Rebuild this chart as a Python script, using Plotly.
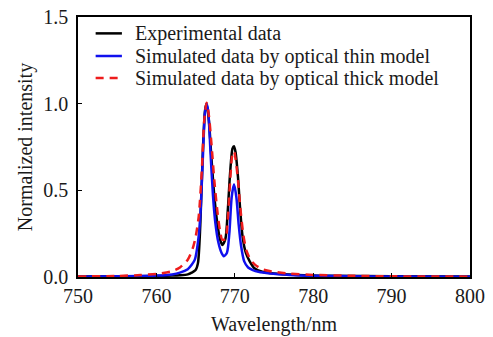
import plotly.graph_objects as go

# Experimental data (black)
exp_x = [750, 755, 760, 762, 763, 764, 764.5, 765.0, 765.3, 765.6, 765.9, 766.2, 766.4, 766.7, 767.0, 767.4, 767.8, 768.1, 768.4, 768.8, 769.1, 769.4, 769.7, 769.9, 770.1, 770.4, 770.7, 771.0, 771.4, 771.9, 772.5, 773.5, 775, 778, 782, 790, 800]
exp_y = [0.003, 0.004, 0.006, 0.008, 0.01, 0.015, 0.025, 0.04, 0.08, 0.3, 0.7, 0.96, 1.0, 0.9, 0.7, 0.46, 0.3, 0.22, 0.185, 0.22, 0.38, 0.6, 0.74, 0.755, 0.72, 0.58, 0.38, 0.23, 0.14, 0.09, 0.05, 0.03, 0.02, 0.012, 0.007, 0.004, 0.003]

# Simulated, optical thin model (blue)
thin_x = [750, 755, 760, 762, 763, 764, 764.5, 764.9, 765.3, 765.6, 765.9, 766.2, 766.4, 766.6, 766.9, 767.2, 767.5, 767.9, 768.3, 768.6, 769.0, 769.3, 769.6, 769.9, 770.2, 770.5, 770.8, 771.2, 771.7, 772.3, 773.0, 774.5, 777, 780, 785, 790, 800]
thin_y = [0.002, 0.004, 0.008, 0.015, 0.025, 0.045, 0.07, 0.1, 0.2, 0.35, 0.66, 0.95, 1.0, 0.96, 0.72, 0.48, 0.32, 0.2, 0.14, 0.12, 0.14, 0.25, 0.46, 0.535, 0.46, 0.3, 0.18, 0.09, 0.055, 0.04, 0.03, 0.02, 0.012, 0.007, 0.004, 0.003, 0.002]

# Simulated, optical thick model (red dashed)
thick_x = [750, 755, 758, 760, 762, 763, 764, 764.6, 765.0, 765.4, 765.8, 766.1, 766.4, 766.7, 767.0, 767.4, 767.8, 768.1, 768.4, 768.8, 769.1, 769.4, 769.7, 769.9, 770.1, 770.4, 770.7, 771.1, 771.5, 772.0, 772.6, 773.5, 775, 777, 780, 785, 790, 800]
thick_y = [0.003, 0.006, 0.011, 0.018, 0.033, 0.055, 0.1, 0.16, 0.23, 0.35, 0.62, 0.9, 1.005, 0.93, 0.78, 0.55, 0.37, 0.27, 0.215, 0.22, 0.33, 0.55, 0.71, 0.725, 0.68, 0.56, 0.4, 0.24, 0.15, 0.1, 0.07, 0.045, 0.03, 0.02, 0.012, 0.007, 0.004, 0.002]

series_names = ["Experimental data",
                "Simulated data by optical thin model",
                "Simulated data by optical thick model"]
series_colors = ["black", "#1010ee", "#ee1c1c"]
series_dash = ["solid", "solid", "8px,6px"]

x_ticks = [750, 760, 770, 780, 790, 800]
y_ticks = [0.0, 0.5, 1.0, 1.5]

font_family = "Liberation Serif, Times New Roman, serif"
text_color = "#1a1a1a"

fig = go.Figure()
for xs, ys, name, col, dash in zip([exp_x, thin_x, thick_x], [exp_y, thin_y, thick_y],
                                   series_names, series_colors, series_dash):
    fig.add_trace(go.Scatter(x=xs, y=ys, mode="lines", name=name, showlegend=False,
                             line=dict(color=col, width=2.5, dash=dash, shape="spline", smoothing=0.7)))

# Legend drawn inside the plot (compact row spacing as in the reference)
leg_rows = [0.937, 0.850, 0.765]
for name, col, dash, yy in zip(series_names, series_colors, series_dash, leg_rows):
    fig.add_shape(type="line", xref="paper", yref="paper", x0=0.045, x1=0.112, y0=yy, y1=yy,
                  line=dict(color=col, width=2.5, dash=dash))
    fig.add_annotation(xref="paper", yref="paper", x=0.140, y=yy, text=name, showarrow=False,
                       xanchor="left", yanchor="middle",
                       font=dict(family=font_family, size=20, color=text_color))

fig.update_layout(
    width=493, height=337,
    margin=dict(l=78, r=23, t=17, b=60),
    paper_bgcolor="white", plot_bgcolor="white",
    font=dict(family=font_family, size=20, color=text_color),
    showlegend=False,
    xaxis=dict(range=[750, 800], tickvals=x_ticks, ticktext=[str(v) for v in x_ticks],
               showgrid=False, zeroline=False, showline=True, linecolor="black", linewidth=1.5,
               mirror=True, ticks="inside", ticklen=4, tickcolor="black", automargin=False,
               title=dict(text="Wavelength/nm", font=dict(size=20), standoff=11),
               tickfont=dict(size=20)),
    yaxis=dict(range=[0, 1.5], tickvals=y_ticks, ticktext=["0.0", "0.5", "1.0", "1.5"],
               showgrid=False, zeroline=False, showline=True, linecolor="black", linewidth=1.5,
               mirror=True, ticks="inside", ticklen=4, tickcolor="black", ticklabelstandoff=4,
               automargin=False,
               title=dict(text="Normalized intensity", font=dict(size=20), standoff=5),
               tickfont=dict(size=20)),
)

fig.write_html("out.html")
